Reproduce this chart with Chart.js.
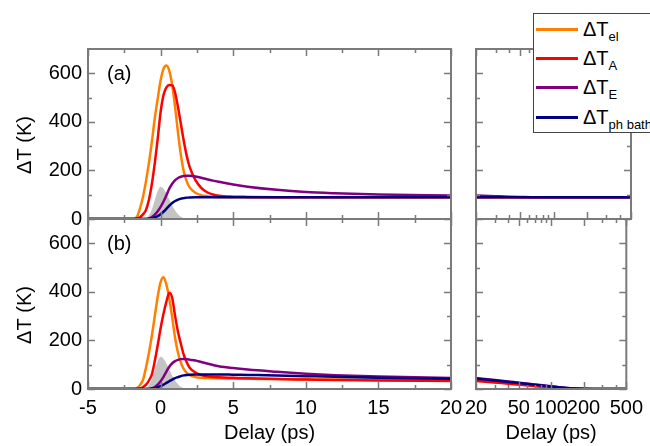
<!DOCTYPE html>
<html lang="en">
<head>
<meta charset="UTF-8">
<title>ΔT vs Delay</title>
<script src="https://cdn.jsdelivr.net/npm/chart.js"></script>
<style>
  body { margin: 0; background: #fff; font-family: Arial, "Liberation Sans", sans-serif; }
  #wrap { position: relative; width: 650px; height: 446px; overflow: hidden; }
  canvas { position: absolute; left: 0; top: 0; }
  #legend {
    position: absolute; left: 533px; top: 13px; width: 125px; height: 118px;
    border: 1px solid #444; background: #fff; color: #000;
  }
  #legend .row { position: absolute; left: 0; height: 30px; width: 125px; }
  #legend .swatch { position: absolute; left: 2px; top: 14px; width: 42px; height: 3px; }
  #legend .txt { position: absolute; left: 49px; top: 3px; font-size: 20px; line-height: 24px; white-space: nowrap; }
  #legend sub { font-size: 13px; vertical-align: -5px; line-height: 0; }
</style>
</head>
<body>
<div id="wrap">
  <canvas id="topLeft" width="650" height="446"></canvas>
  <canvas id="topRight" width="650" height="446"></canvas>
  <canvas id="botLeft" width="650" height="446"></canvas>
  <canvas id="botRight" width="650" height="446"></canvas>
  <div id="legend">
    <div class="row" style="top:0px"><span class="swatch" style="background:#ff8000"></span><span class="txt">ΔT<sub>el</sub></span></div>
    <div class="row" style="top:29px"><span class="swatch" style="background:#ff0000"></span><span class="txt">ΔT<sub>A</sub></span></div>
    <div class="row" style="top:58px"><span class="swatch" style="background:#800080"></span><span class="txt">ΔT<sub>E</sub></span></div>
    <div class="row" style="top:88px"><span class="swatch" style="background:#000080"></span><span class="txt">ΔT<sub>ph bath</sub></span></div>
  </div>
</div>
<script>
// delay (ps), linear panels
const tLin = [-5, -2, -1.8, -1.6, -1.4, -1.2, -1.0, -0.8, -0.6, -0.4, -0.2, 0, 0.2, 0.4, 0.6, 0.8, 1.0, 1.2, 1.4, 1.6, 1.8, 2.0, 2.4, 2.8, 3.2, 3.6, 4, 5, 6, 8, 10, 12, 15, 20];

// (a)
const elA   = [0, 0, 1, 12, 48, 95, 158, 233, 318, 415, 495, 570, 618, 632, 610, 552, 460, 355, 262, 195, 155, 130, 108, 98, 94, 92, 91, 90, 90, 90, 90, 90, 90, 90];
const latA  = [0, 0, 0, 2, 8, 20, 38, 80, 145, 230, 330, 440, 510, 542, 552, 550, 520, 460, 390, 320, 260, 215, 160, 128, 110, 101, 96, 92, 91, 90, 90, 90, 90, 90];
const eA    = [0, 0, 0, 0, 0, 0, 0, 2, 8, 18, 32, 50, 72, 98, 125, 145, 160, 169, 174, 177, 178, 178, 175, 170, 164, 158, 153, 142, 133, 120, 111, 106, 101, 97];
const bathA = [0, 0, 0, 0, 0, 0, 0, 1, 3, 7, 12, 20, 30, 42, 55, 66, 74, 80, 84, 86, 88, 89, 90, 90, 90, 90, 90, 90, 90, 90, 90, 90, 90, 90];

// (b)
const elB   = [0, 0, 0, 5, 18, 40, 90, 150, 220, 300, 380, 440, 460, 430, 372, 295, 210, 148, 108, 82, 66, 57, 49, 46, 45, 44, 44, 43, 42, 41, 40, 39, 37, 35];
const latB  = [0, 0, 0, 0, 2, 8, 18, 35, 60, 115, 180, 250, 310, 360, 396, 375, 300, 235, 185, 140, 110, 88, 68, 57, 52, 49, 48, 46, 44, 41, 39, 37, 35, 33];
const eB    = [0, 0, 0, 0, 0, 0, 0, 0, 3, 8, 18, 32, 50, 72, 92, 106, 115, 120, 123, 124, 123, 121, 117, 111, 105, 99, 94, 86, 80, 71, 63, 57, 51, 45];
const bathB = [0, 0, 0, 0, 0, 0, 0, 0, 2, 4, 8, 12, 18, 25, 32, 39, 45, 49, 53, 56, 58, 59, 60, 60, 60, 60, 60, 59, 58, 56, 53, 50, 46, 42];

// pump pulse (grey area)
const pulse = [0, 0, 0, 0, 0, 0, 3, 15, 40, 78, 115, 133, 125, 105, 80, 55, 35, 20, 9, 3, 0, 0, 0, 0, 0, 0, 0, 0, 0, 0, 0, 0, 0, 0];

// delay (ps), log panels
const tLog = [20, 30, 40, 50, 70, 100, 140, 200, 300, 500];
const elAL   = [90, 90, 90, 90, 90, 90, 90, 90, 90, 90];
const latAL  = [90, 90, 90, 90, 90, 90, 90, 90, 90, 90];
const eAL    = [97, 94, 92, 91, 90, 90, 90, 90, 90, 90];
const bathAL = [90, 90, 90, 90, 90, 90, 90, 90, 90, 90];
const elBL   = [35, 28, 23, 19, 13, 7, 2, 0, 0, 0];
const latBL  = [33, 27, 22, 18, 12, 6, 2, 0, 0, 0];
const eBL    = [45, 37, 31, 26, 19, 11, 4, 1, 0, 0];
const bathBL = [42, 35, 29, 25, 18, 10, 4, 1, 0, 0];

// axes
const yTicks = [0, 200, 400, 600];
const yMinor = [100, 300, 500];
const linTicks = [-5, 0, 5, 10, 15, 20];
const linMinor = [-2.5, 2.5, 7.5, 12.5, 17.5];
const logTicks = [20, 50, 100, 200, 500];
const logMinor = [30, 40, 60, 70, 80, 90, 300, 400];

const colors = { el: '#ff8000', lat: '#ff0000', e: '#800080', bath: '#000080', pulse: '#c4c4c4' };

const frame = {
  id: 'frame',
  afterDatasetsDraw(chart, args, o) {
    const { ctx, chartArea: a, scales: { x, y } } = chart;
    ctx.save();
    ctx.strokeStyle = '#7a7a7a';
    ctx.lineWidth = 1.5;
    ctx.beginPath();
    const xt = (vals, len) => vals.forEach(v => {
      const p = Math.round(x.getPixelForValue(v)) + 0.5;
      ctx.moveTo(p, a.bottom); ctx.lineTo(p, a.bottom - len);
      ctx.moveTo(p, a.top); ctx.lineTo(p, a.top + len);
    });
    const yt = (vals, len) => vals.forEach(v => {
      const p = Math.round(y.getPixelForValue(v)) + 0.5;
      ctx.moveTo(a.left, p); ctx.lineTo(a.left + len, p);
      ctx.moveTo(a.right, p); ctx.lineTo(a.right - len, p);
    });
    xt(o.xMajor, 7); xt(o.xMinor, 4);
    yt(yTicks, 7); yt(yMinor, 4);
    ctx.stroke();
    ctx.lineWidth = 2;
    ctx.strokeRect(a.left, a.top, a.right - a.left, a.bottom - a.top);
    ctx.fillStyle = '#000';
    ctx.font = '20px Arial, "Liberation Sans", sans-serif';
    ctx.textBaseline = 'middle';
    if (o.tag) ctx.fillText(o.tag, a.left + 19, a.top + 25);
    if (o.yTitle) {
      ctx.translate(25, a.top + 96);
      ctx.rotate(-Math.PI / 2);
      ctx.textAlign = 'center';
      ctx.fillText(o.yTitle, 0, 0);
    }
    ctx.restore();
  }
};

function line(label, xs, ys, color, order) {
  return {
    label, order,
    data: xs.map((t, i) => ({ x: t, y: ys[i] })),
    borderColor: color, borderWidth: 2.5, pointRadius: 0,
    cubicInterpolationMode: 'monotone', fill: false
  };
}

function panel(id, xs, sets, p) {
  const font = { family: 'Arial, "Liberation Sans", sans-serif', size: 20 };
  const datasets = [
    line('ΔT ph bath', xs, sets[3], colors.bath, 0),
    line('ΔT E', xs, sets[2], colors.e, 1),
    line('ΔT A', xs, sets[1], colors.lat, 2),
    line('ΔT el', xs, sets[0], colors.el, 3)
  ];
  if (sets[4]) {
    datasets.push({
      label: 'pulse', order: 4,
      data: xs.map((t, i) => ({ x: t, y: sets[4][i] })),
      borderWidth: 0, borderColor: 'rgba(0,0,0,0)', backgroundColor: colors.pulse,
      pointRadius: 0, fill: 'origin', cubicInterpolationMode: 'monotone'
    });
  }
  return new Chart(document.getElementById(id), {
    type: 'line',
    data: { datasets },
    options: {
      responsive: false, animation: false,
      layout: { padding: p.pad },
      plugins: {
        legend: { display: false }, tooltip: { enabled: false },
        frame: { xMajor: p.xTicks, xMinor: p.xMinor, tag: p.tag, yTitle: p.yTitle }
      },
      scales: {
        x: {
          type: p.log ? 'logarithmic' : 'linear',
          min: p.xMin, max: p.xMax,
          display: p.showX,
          afterBuildTicks: s => { s.ticks = p.xTicks.map(v => ({ value: v })); },
          afterFit: s => { s.height = p.showX ? 57 : 0; },
          grid: { display: false, drawTicks: false },
          border: { display: false },
          ticks: { font, color: '#000', padding: 7, autoSkip: false, maxRotation: 0, callback: v => String(v) },
          title: { display: true, text: 'Delay (ps)', font, color: '#000', padding: { top: 0, bottom: 1 } }
        },
        y: {
          min: 0, max: 700,
          display: p.showY,
          afterBuildTicks: s => { s.ticks = yTicks.map(v => ({ value: v })); },
          afterFit: s => { s.width = p.showY ? 88 : 0; },
          grid: { display: false, drawTicks: false },
          border: { display: false },
          ticks: { font, color: '#000', padding: 6, autoSkip: false }
        }
      }
    },
    plugins: [frame]
  });
}

panel('topLeft', tLin, [elA, latA, eA, bathA, pulse], {
  pad: { left: 0, right: 199, top: 49, bottom: 227 }, showX: false, showY: true,
  xMin: -5, xMax: 20, xTicks: linTicks, xMinor: linMinor, tag: '(a)', yTitle: 'ΔT (K)'
});
panel('topRight', tLog, [elAL, latAL, eAL, bathAL], {
  pad: { left: 476, right: 19, top: 49, bottom: 227 }, showX: false, showY: false, log: true,
  xMin: 20, xMax: 500, xTicks: logTicks, xMinor: logMinor
});
panel('botLeft', tLin, [elB, latB, eB, bathB, pulse], {
  pad: { left: 0, right: 199, top: 219, bottom: 0 }, showX: true, showY: true,
  xMin: -5, xMax: 20, xTicks: linTicks, xMinor: linMinor, tag: '(b)', yTitle: 'ΔT (K)'
});
panel('botRight', tLog, [elBL, latBL, eBL, bathBL], {
  pad: { left: 476, right: 19, top: 219, bottom: 0 }, showX: true, showY: false, log: true,
  xMin: 20, xMax: 500, xTicks: logTicks, xMinor: logMinor
});
</script>
</body>
</html>
